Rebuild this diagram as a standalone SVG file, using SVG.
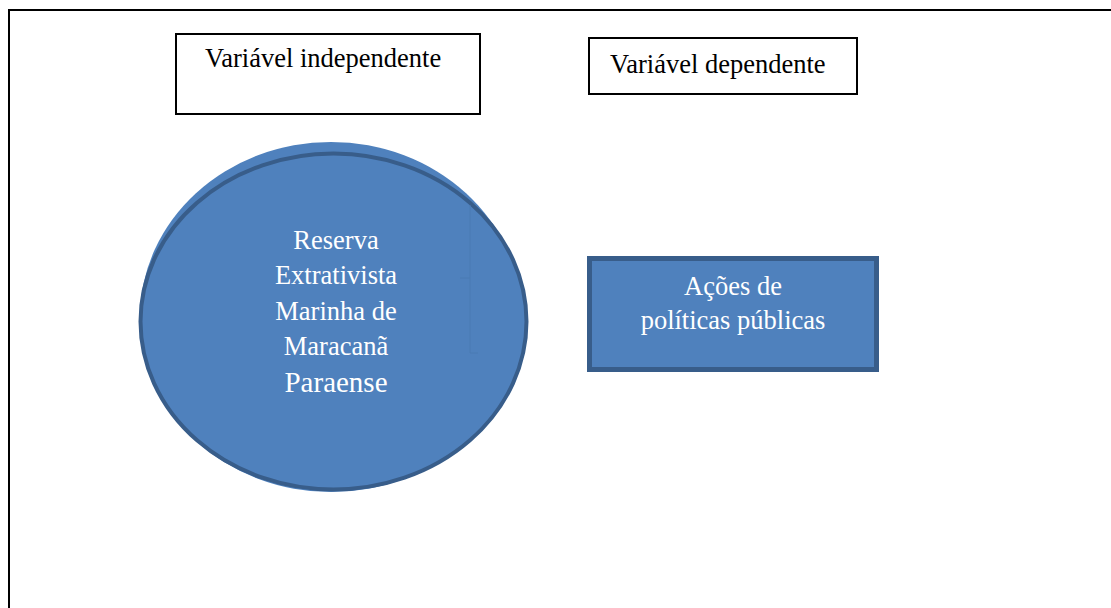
<svg xmlns="http://www.w3.org/2000/svg" width="1111" height="608" viewBox="0 0 1111 608">
<style>
.frame{fill:none;stroke:#000;stroke-width:2}
.box{fill:#fff;stroke:#000;stroke-width:2}
.lbl{font-family:"Liberation Serif","Times New Roman",serif;font-size:26.5px;fill:#000}
.wlbl{font-family:"Liberation Serif","Times New Roman",serif;font-size:26.5px;fill:#fff;text-anchor:middle}
.blue{fill:#4f81bd}
.bstroke{fill:#4f81bd;stroke:#385d8a}
</style>
<rect class="frame" x="9" y="10" width="1110" height="610"/>
<g id="connectors"></g>
<g id="node-independente">
<rect class="box" x="176" y="34" width="304" height="80"/>
<text class="lbl" x="205" y="67">Variável independente</text>
</g>
<g id="node-dependente">
<rect class="box" x="589" y="38" width="268" height="56"/>
<text class="lbl" x="610" y="73">Variável dependente</text>
</g>
<g id="node-reserva">
<ellipse class="blue" cx="331" cy="317" rx="191" ry="175"/>
<ellipse class="bstroke" cx="333.5" cy="321.5" rx="193" ry="168" stroke-width="4"/>
<path d="M470,205 V353 H478 M460,278 H470" fill="none" stroke="#4a7ab3" stroke-width="1"/>
<text class="wlbl" x="336" y="249">Reserva</text>
<text class="wlbl" x="336" y="284">Extrativista</text>
<text class="wlbl" x="336" y="320">Marinha de</text>
<text class="wlbl" x="336" y="355">Maracanã</text>
<text class="wlbl" x="336" y="392" style="font-size:29px">Paraense</text>
</g>
<g id="node-acoes">
<rect class="bstroke" x="589.5" y="258.5" width="287" height="111" stroke-width="5"/>
<text class="wlbl" x="733" y="295">Ações de</text>
<text class="wlbl" x="733" y="329">políticas públicas</text>
</g>
</svg>
